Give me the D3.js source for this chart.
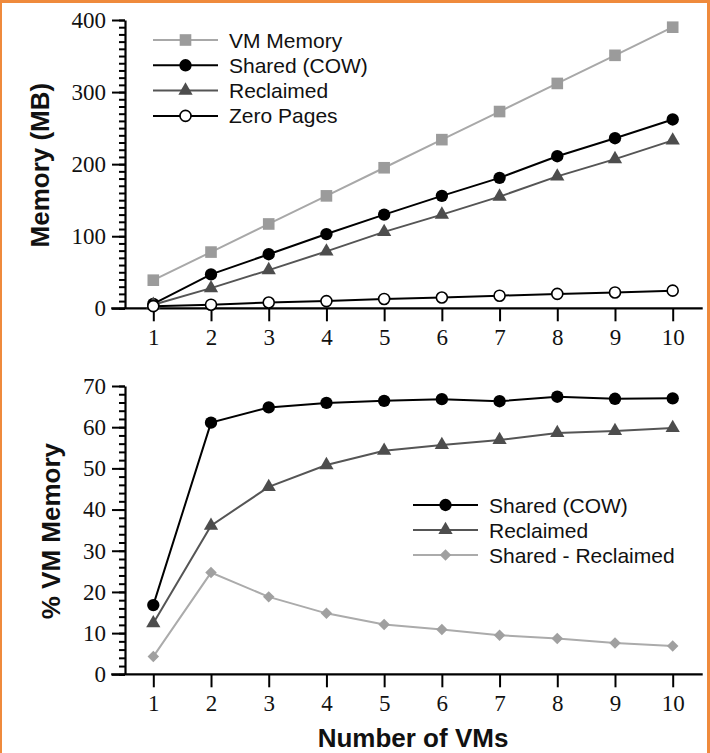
<!DOCTYPE html>
<html>
<head>
<meta charset="utf-8">
<script src="https://cdn.jsdelivr.net/npm/d3@7"></script>
<style>
  body { margin: 0; background: #fff; }
  .tick text { font-family: "Liberation Serif", serif; font-size: 23px; fill: #111; }
  .title { font-family: "Liberation Sans", Arial, sans-serif; font-weight: bold; font-size: 26px; fill: #111; }
  .legend text { font-family: "Liberation Sans", Arial, sans-serif; font-size: 21px; fill: #111; }
</style>
</head>
<body>
<div id="chart"></div>
<script>
const vmCounts = [1, 2, 3, 4, 5, 6, 7, 8, 9, 10];

// top panel, MB
const vmMemory = [39, 78, 117, 156, 195, 234, 273, 312, 351, 390];
const sharedCow = [6, 47, 75, 103, 130, 156, 181, 211, 236, 262];
const reclaimed = [5, 28, 53, 79, 106, 130, 155, 183, 207, 233];
const zeroPages = [3, 5, 8, 10, 13, 15, 17.5, 20, 22, 24.5];

// bottom panel, % of VM memory
const pctShared = [16.8, 61.1, 64.8, 65.9, 66.4, 66.8, 66.3, 67.4, 66.9, 67.0];
const pctReclaimed = [12.4, 36.1, 45.5, 50.8, 54.3, 55.7, 56.9, 58.6, 59.1, 59.8];
const pctDiff = [4.3, 24.7, 18.8, 14.8, 12.1, 10.9, 9.5, 8.7, 7.6, 6.9];

const width = 710, height = 753;
const axisX = 125;

const styles = {
  vm:   { line: "#a8a8a8", fill: "#9b9b9b", stroke: "none", shape: d3.symbolSquare, size: 135, rot: 0 },
  cow:  { line: "#000", fill: "#000", stroke: "none", shape: d3.symbolCircle, size: 120, rot: 0 },
  rec:  { line: "#555", fill: "#4d4d4d", stroke: "none", shape: d3.symbolTriangle, size: 88, rot: 0 },
  zero: { line: "#000", fill: "#fff", stroke: "#000", shape: d3.symbolCircle, size: 95, rot: 0 },
  diff: { line: "#ababab", fill: "#a0a0a0", stroke: "none", shape: d3.symbolSquare, size: 66, rot: 45 }
};

const svg = d3.select("#chart").append("svg")
  .attr("width", width)
  .attr("height", height);

svg.append("rect").attr("width", width).attr("height", height).attr("fill", "#fff");

const x = d3.scaleLinear().domain([1, 10]).range([153.3, 672.7]);

const drawPanel = (cfg) => {
  const y = d3.scaleLinear().domain([0, cfg.max]).range([cfg.bottom, cfg.top]);
  const g = svg.append("g");

  // minor ticks
  g.append("g")
    .attr("transform", `translate(${axisX},0)`)
    .call(d3.axisLeft(y).tickValues(d3.range(0, cfg.max + 0.001, cfg.minor)).tickSize(6).tickFormat(""))
    .call(s => s.select(".domain").remove())
    .call(s => s.selectAll("line").attr("stroke", "#000").attr("stroke-width", 2));

  const yAxis = g.append("g")
    .attr("transform", `translate(${axisX},0)`)
    .call(d3.axisLeft(y).tickValues(d3.range(0, cfg.max + 0.001, cfg.major)).tickSize(13).tickPadding(6).tickSizeOuter(0));
  yAxis.select(".domain").attr("stroke-width", 2.2);
  yAxis.selectAll("line").attr("stroke-width", 2);

  const xAxis = g.append("g")
    .attr("transform", `translate(0,${cfg.bottom})`)
    .call(d3.axisBottom(x).tickValues(vmCounts).tickSize(13).tickPadding(7).tickSizeOuter(0));
  xAxis.select(".domain").attr("d", `M${x(0.27)},0H${x(10.52)}`).attr("stroke-width", 2.2);
  xAxis.selectAll("line").attr("stroke-width", 2);

  const line = d3.line().x((d, i) => x(vmCounts[i])).y(d => y(d));

  cfg.series.forEach(s => {
    const st = styles[s.key];
    g.append("path")
      .datum(s.values)
      .attr("fill", "none")
      .attr("stroke", st.line)
      .attr("stroke-width", 2)
      .attr("d", line);
    g.append("g").selectAll("path")
      .data(s.values)
      .join("path")
      .attr("transform", (d, i) => `translate(${x(vmCounts[i])},${y(d)}) rotate(${st.rot})`)
      .attr("d", d3.symbol(st.shape, st.size))
      .attr("fill", st.fill)
      .attr("stroke", st.stroke)
      .attr("stroke-width", 1.6);
  });

  // legend
  const leg = svg.append("g").attr("class", "legend");
  cfg.series.forEach((s, i) => {
    const st = styles[s.key];
    const ly = cfg.legend.y + i * cfg.legend.step;
    leg.append("line")
      .attr("x1", cfg.legend.x).attr("x2", cfg.legend.x + 65)
      .attr("y1", ly).attr("y2", ly)
      .attr("stroke", st.line).attr("stroke-width", 2);
    leg.append("path")
      .attr("transform", `translate(${cfg.legend.x + 32.5},${ly}) rotate(${st.rot})`)
      .attr("d", d3.symbol(st.shape, st.size))
      .attr("fill", st.fill)
      .attr("stroke", st.stroke)
      .attr("stroke-width", 1.6);
    leg.append("text")
      .attr("x", cfg.legend.x + 76)
      .attr("y", ly)
      .attr("dy", "0.36em")
      .text(s.label);
  });

  svg.append("text")
    .attr("class", "title")
    .attr("transform", `translate(${cfg.titleX},${(cfg.top + cfg.bottom) / 2 + 1}) rotate(-90)`)
    .attr("text-anchor", "middle")
    .attr("dy", "0.36em")
    .text(cfg.title);
};

drawPanel({
  max: 400, major: 100, minor: 10,
  top: 20, bottom: 308.3,
  title: "Memory (MB)", titleX: 40,
  legend: { x: 153, y: 40, step: 25.3 },
  series: [
    { key: "vm", label: "VM Memory", values: vmMemory },
    { key: "cow", label: "Shared (COW)", values: sharedCow },
    { key: "rec", label: "Reclaimed", values: reclaimed },
    { key: "zero", label: "Zero Pages", values: zeroPages }
  ]
});

drawPanel({
  max: 70, major: 10, minor: 2,
  top: 386, bottom: 674.3,
  title: "% VM Memory", titleX: 51,
  legend: { x: 413, y: 505, step: 25 },
  series: [
    { key: "cow", label: "Shared (COW)", values: pctShared },
    { key: "rec", label: "Reclaimed", values: pctReclaimed },
    { key: "diff", label: "Shared - Reclaimed", values: pctDiff }
  ]
});

svg.append("text")
  .attr("class", "title")
  .attr("x", x(5.5))
  .attr("y", 747)
  .attr("text-anchor", "middle")
  .text("Number of VMs");

// orange frame (top, left, right)
const frameColor = "#ef8a3c";
svg.append("rect").attr("x", 0).attr("y", 0).attr("width", width).attr("height", 3).attr("fill", frameColor);
svg.append("rect").attr("x", 0).attr("y", 0).attr("width", 2).attr("height", height).attr("fill", frameColor);
svg.append("rect").attr("x", 707).attr("y", 0).attr("width", 3).attr("height", height).attr("fill", frameColor);
</script>
</body>
</html>
